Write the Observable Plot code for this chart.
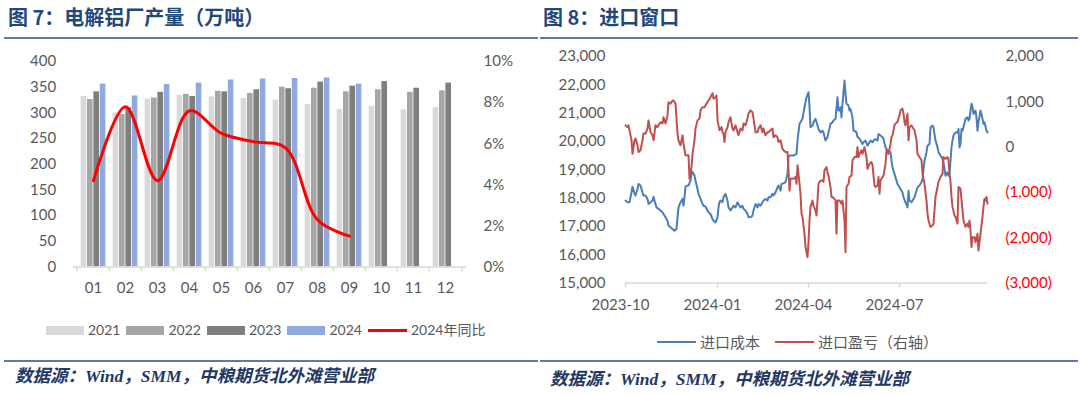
<!DOCTYPE html>
<html><head><meta charset="utf-8">
<script src="https://cdn.jsdelivr.net/npm/d3@7"></script>
<script src="https://cdn.jsdelivr.net/npm/@observablehq/plot@0.6"></script>
<style>
body{margin:0;width:1080px;height:395px;overflow:hidden;background:#fff;position:relative;font-family:Lato,"Noto Sans CJK SC",sans-serif;}
.abs{position:absolute;}
.title{font-family:"Noto Sans CJK SC",sans-serif;font-weight:700;font-size:20px;color:#1F497D;line-height:24px;white-space:nowrap;}
.hline{height:2px;background:#5B7BA7;}
.src{font-family:"Liberation Serif","Noto Sans CJK SC",serif;font-style:italic;font-weight:700;font-size:17.5px;color:#1F3864;white-space:nowrap;line-height:20px;}
.legend{display:flex;align-items:center;font-size:14px;color:#595959;white-space:nowrap;line-height:18px;}
.legend .sw{display:inline-block;width:38px;height:9px;margin-right:4px;}
.legend .ln{display:inline-block;width:39px;height:0;margin-right:4px;}
.legend .item{display:flex;align-items:center;margin-right:6px;}
</style></head>
<body>
<div id="root"></div>
<script>
// ---------- Data: Figure 7 ----------
const months = ["01","02","03","04","05","06","07","08","09","10","11","12"];
const years = ["2021","2022","2023","2024"];
const prod2021 = [332,300,327,334,331,328,325,316,307,313,306,310];
const prod2022 = [326,297,329,336,342,338,350,348,341,345,340,343];
const prod2023 = [341,310,340,332,341,345,347,360,352,361,348,358];
const prod2024 = [356,333,355,358,364,366,367,368,356];
const yoy2024 = [4.2,7.8,4.2,7.6,6.5,6.1,5.8,2.3,1.5];
const prodTicks = [0,50,100,150,200,250,300,350,400];
const pctTicks = [0,2,4,6,8,10];
const yoyLabel = "2024年同比";

// ---------- Data: Figure 8 ----------
const costSeries = [
["2023-10-01",17910],["2023-10-03",17850],["2023-10-05",17850],["2023-10-07",18200],["2023-10-08",18400],["2023-10-10",18150],["2023-10-11",18090],["2023-10-13",18320],["2023-10-14",18500],["2023-10-16",18440],["2023-10-18",18200],["2023-10-19",18090],["2023-10-21",18090],["2023-10-23",17970],["2023-10-24",17790],["2023-10-26",17850],["2023-10-28",17910],["2023-10-29",18050],["2023-10-30",17910],
["2023-11-01",17670],["2023-11-03",17620],["2023-11-05",17560],["2023-11-07",17500],["2023-11-08",17440],["2023-11-10",17320],["2023-11-12",17200],["2023-11-13",17030],["2023-11-15",16970],["2023-11-17",16910],["2023-11-19",16850],["2023-11-21",16910],["2023-11-22",17320],["2023-11-23",17670],["2023-11-25",17850],["2023-11-27",17970],["2023-11-28",17730],["2023-11-29",18030],["2023-11-30",18400],
["2023-12-02",18440],["2023-12-03",18440],["2023-12-05",18620],["2023-12-06",18850],["2023-12-07",18930],["2023-12-09",18790],["2023-12-10",18620],["2023-12-12",18320],["2023-12-13",18150],["2023-12-15",17970],["2023-12-17",17790],["2023-12-18",17730],["2023-12-20",17700],["2023-12-22",17560],["2023-12-23",17500],["2023-12-25",17440],["2023-12-27",17260],["2023-12-28",17200],["2023-12-30",17140],
["2024-01-01",17320],["2024-01-02",17670],["2024-01-03",17850],["2024-01-04",17910],["2024-01-06",17850],["2024-01-07",18030],["2024-01-09",18150],["2024-01-11",17910],["2024-01-12",17670],["2024-01-14",17560],["2024-01-16",17670],["2024-01-17",17730],["2024-01-19",17670],["2024-01-21",17850],["2024-01-22",17790],["2024-01-24",17670],["2024-01-26",17730],["2024-01-27",17620],["2024-01-29",17560],["2024-01-31",17440],
["2024-02-01",17320],["2024-02-03",17320],["2024-02-05",17380],["2024-02-06",17560],["2024-02-08",17790],["2024-02-10",17670],["2024-02-11",17790],["2024-02-13",17730],["2024-02-15",17850],["2024-02-16",17910],["2024-02-18",17970],["2024-02-20",17910],["2024-02-21",18030],["2024-02-23",18030],["2024-02-25",18150],["2024-02-26",18090],["2024-02-28",18200],
["2024-03-01",18380],["2024-03-02",18440],["2024-03-04",18260],["2024-03-05",18500],["2024-03-07",18520],["2024-03-09",18560],["2024-03-11",18850],["2024-03-12",19440],["2024-03-13",19500],["2024-03-16",19500],["2024-03-17",19500],["2024-03-20",19560],["2024-03-21",20030],["2024-03-23",20620],["2024-03-25",20740],["2024-03-26",20800],["2024-03-28",21210],["2024-03-30",21560],
["2024-04-01",21740],["2024-04-02",21210],["2024-04-03",20500],["2024-04-05",20560],["2024-04-06",20680],["2024-04-08",20800],["2024-04-10",20560],["2024-04-11",20440],["2024-04-13",20320],["2024-04-15",20380],["2024-04-16",20320],["2024-04-18",20030],["2024-04-20",20150],["2024-04-21",20320],["2024-04-23",20620],["2024-04-25",20680],["2024-04-26",20740],["2024-04-28",20800],["2024-04-30",21560],
["2024-05-01",21090],["2024-05-02",21090],["2024-05-03",21210],["2024-05-04",20850],["2024-05-05",21330],["2024-05-07",22150],["2024-05-08",21680],["2024-05-09",21330],["2024-05-11",21270],["2024-05-12",21090],["2024-05-13",21150],["2024-05-15",20850],["2024-05-16",20380],["2024-05-17",20380],["2024-05-19",20320],["2024-05-20",20150],["2024-05-21",20150],["2024-05-23",20030],["2024-05-25",19910],["2024-05-26",19970],["2024-05-28",20030],["2024-05-30",19850],["2024-05-31",19910],
["2024-06-02",20030],["2024-06-04",19970],["2024-06-05",20030],["2024-06-07",20090],["2024-06-09",20030],["2024-06-10",20260],["2024-06-12",20210],["2024-06-14",20150],["2024-06-15",20090],["2024-06-17",19790],["2024-06-19",19680],["2024-06-20",19680],["2024-06-22",19620],["2024-06-23",19320],["2024-06-24",19090],["2024-06-27",18730],["2024-06-29",18500],
["2024-07-02",18320],["2024-07-04",18200],["2024-07-05",18030],["2024-07-07",17850],["2024-07-09",17670],["2024-07-10",18260],["2024-07-11",17910],["2024-07-13",17850],["2024-07-14",17910],["2024-07-16",18030],["2024-07-18",18260],["2024-07-19",18380],["2024-07-21",18440],["2024-07-23",18560],["2024-07-24",18680],["2024-07-26",19320],["2024-07-28",19620],["2024-07-29",19850],["2024-07-31",19910],
["2024-08-01",20500],["2024-08-03",20560],["2024-08-04",20500],["2024-08-05",20260],["2024-08-06",20030],["2024-08-08",19790],["2024-08-09",19620],["2024-08-11",19500],["2024-08-13",19380],["2024-08-14",19260],["2024-08-16",18790],["2024-08-18",18910],["2024-08-19",18790],["2024-08-20",18850],["2024-08-21",19320],["2024-08-22",19790],["2024-08-23",20030],["2024-08-24",20210],["2024-08-26",20320],["2024-08-28",20320],["2024-08-29",20440],["2024-08-30",19790],["2024-08-31",19910],
["2024-09-01",20440],["2024-09-02",20380],["2024-09-03",20500],["2024-09-05",20800],["2024-09-07",20850],["2024-09-08",20740],["2024-09-09",20800],["2024-09-10",21090],["2024-09-11",21330],["2024-09-12",21210],["2024-09-13",20970],["2024-09-15",21090],["2024-09-16",20850],["2024-09-17",20380],["2024-09-18",20680],["2024-09-20",21090],["2024-09-22",20800],["2024-09-23",20620],["2024-09-24",20680],["2024-09-26",20380],["2024-09-27",20320]
];
const profitSeries = [
["2023-10-01",480],["2023-10-03",440],["2023-10-04",480],["2023-10-05",370],["2023-10-07",150],["2023-10-08",-150],["2023-10-09",0],["2023-10-10",150],["2023-10-11",190],["2023-10-13",40],["2023-10-14",-110],["2023-10-16",-70],["2023-10-18",150],["2023-10-19",300],["2023-10-21",300],["2023-10-23",410],["2023-10-24",590],["2023-10-26",330],["2023-10-28",260],["2023-10-29",150],["2023-10-31",480],
["2023-11-02",440],["2023-11-03",480],["2023-11-05",550],["2023-11-07",520],["2023-11-08",660],["2023-11-10",520],["2023-11-12",700],["2023-11-13",990],["2023-11-15",960],["2023-11-17",1030],["2023-11-18",1030],["2023-11-20",960],["2023-11-22",300],["2023-11-23",150],["2023-11-25",40],["2023-11-27",260],["2023-11-28",70],["2023-11-30",-180],
["2023-12-02",-180],["2023-12-03",-180],["2023-12-04",-700],["2023-12-06",-440],["2023-12-07",-150],["2023-12-09",150],["2023-12-10",410],["2023-12-12",590],["2023-12-14",630],["2023-12-15",810],["2023-12-17",880],["2023-12-19",880],["2023-12-21",960],["2023-12-23",1030],["2023-12-25",1100],["2023-12-27",1190],["2023-12-28",1070],["2023-12-30",1100],["2023-12-31",1140],
["2024-01-01",590],["2024-01-02",480],["2024-01-03",370],["2024-01-05",440],["2024-01-06",330],["2024-01-07",300],["2024-01-08",110],["2024-01-09",330],["2024-01-11",440],["2024-01-12",550],["2024-01-14",660],["2024-01-15",520],["2024-01-16",410],["2024-01-17",370],["2024-01-19",480],["2024-01-21",330],["2024-01-22",260],["2024-01-24",410],["2024-01-26",370],["2024-01-27",520],["2024-01-29",480],["2024-01-31",630],
["2024-02-01",740],["2024-02-03",810],["2024-02-05",770],["2024-02-06",630],["2024-02-08",330],["2024-02-10",330],["2024-02-11",410],["2024-02-13",480],["2024-02-15",330],["2024-02-16",410],["2024-02-18",260],["2024-02-20",330],["2024-02-21",330],["2024-02-23",370],["2024-02-25",410],["2024-02-26",220],["2024-02-28",260],
["2024-03-01",220],["2024-03-02",110],["2024-03-04",150],["2024-03-06",-40],["2024-03-07",-70],["2024-03-09",-110],["2024-03-11",-110],["2024-03-12",-510],["2024-03-13",-960],["2024-03-14",-700],["2024-03-16",-700],["2024-03-17",-700],["2024-03-19",-660],["2024-03-20",-810],["2024-03-21",-400],["2024-03-22",-590],["2024-03-24",-1030],["2024-03-25",-1470],["2024-03-26",-1540],["2024-03-28",-1910],["2024-03-29",-2210],["2024-03-31",-2430],
["2024-04-01",-2100],["2024-04-02",-1620],["2024-04-03",-1320],["2024-04-05",-1180],["2024-04-06",-1290],["2024-04-08",-1400],["2024-04-09",-1510],["2024-04-10",-1180],["2024-04-11",-810],["2024-04-13",-740],["2024-04-15",-740],["2024-04-16",-770],["2024-04-17",-510],["2024-04-19",-440],["2024-04-20",-550],["2024-04-21",-630],["2024-04-23",-880],["2024-04-24",-1100],["2024-04-25",-1100],["2024-04-27",-1140],["2024-04-28",-1180],["2024-04-29",-1910],["2024-04-30",-1180],
["2024-05-02",-1180],["2024-05-04",-1250],["2024-05-05",-1180],["2024-05-07",-1620],["2024-05-08",-2320],["2024-05-09",-880],["2024-05-11",-810],["2024-05-12",-660],["2024-05-14",-630],["2024-05-15",-290],["2024-05-17",-220],["2024-05-19",-220],["2024-05-20",0],["2024-05-21",-220],["2024-05-22",-150],["2024-05-24",-70],["2024-05-25",-150],["2024-05-27",0],["2024-05-29",-220],["2024-05-30",-480],
["2024-06-01",-370],["2024-06-03",-330],["2024-06-04",-400],["2024-06-06",-850],["2024-06-07",-880],["2024-06-09",-850],["2024-06-10",-660],["2024-06-11",-1030],["2024-06-12",-740],["2024-06-14",-660],["2024-06-15",-630],["2024-06-17",-370],["2024-06-18",-70],["2024-06-20",-150],["2024-06-22",70],["2024-06-23",220],["2024-06-24",260],["2024-06-26",480],["2024-06-27",520],["2024-06-29",550],
["2024-07-01",700],["2024-07-02",810],["2024-07-04",850],["2024-07-05",740],["2024-07-06",550],["2024-07-07",480],["2024-07-09",740],["2024-07-10",150],["2024-07-11",440],["2024-07-13",480],["2024-07-14",440],["2024-07-16",370],["2024-07-18",150],["2024-07-19",-150],["2024-07-21",-220],["2024-07-23",-290],["2024-07-24",-590],["2024-07-26",-810],["2024-07-28",-1180],["2024-07-29",-1470],["2024-07-30",-1620],
["2024-08-01",-1760],["2024-08-03",-1730],["2024-08-04",-1690],["2024-08-06",-1100],["2024-08-08",-880],["2024-08-09",-770],["2024-08-11",-660],["2024-08-13",-590],["2024-08-14",-220],["2024-08-16",-260],["2024-08-18",-220],["2024-08-19",-290],["2024-08-20",-590],["2024-08-21",-770],["2024-08-22",-1100],["2024-08-23",-1320],["2024-08-25",-1510],["2024-08-26",-1540],["2024-08-28",-1690],["2024-08-29",-880],["2024-08-31",-920],
["2024-09-02",-1400],["2024-09-03",-1620],["2024-09-05",-1760],["2024-09-07",-1690],["2024-09-08",-1760],["2024-09-09",-1620],["2024-09-10",-1840],["2024-09-11",-2210],["2024-09-12",-1990],["2024-09-14",-1990],["2024-09-15",-2100],["2024-09-17",-1910],["2024-09-18",-2280],["2024-09-20",-1910],["2024-09-22",-1540],["2024-09-23",-1320],["2024-09-24",-1140],["2024-09-25",-1180],["2024-09-26",-1100],["2024-09-27",-1250]
];
const costTicks = [15000,16000,17000,18000,19000,20000,21000,22000,23000];
const profitTicks = [-3000,-2000,-1000,0,1000,2000];
const dateTicks = ["2023-10-01","2024-01-01","2024-04-01","2024-07-01"];
const dateDomain = ["2023-10-01","2024-09-27"];
const seriesNames = ["进口成本","进口盈亏（右轴）"];

// ---------- Styles ----------
const yearColors = ["#D9D9D9","#A6A6A6","#7F7F7F","#8FAADC"];
const yoyColor = "#FF0000";
const costColor = "#4A7EBB";
const profitColor = "#C0504D";
const axisGrey = "#D9D9D9";
const textGrey = "#595959";

const root = document.getElementById("root");
function add(html){ root.insertAdjacentHTML("beforeend", html); }

// ---------- Titles & lines ----------
add(`<div class="abs title" style="left:8px;top:5px">图 7：电解铝厂产量（万吨）</div>`);
add(`<div class="abs title" style="left:543px;top:5px">图 8：进口窗口</div>`);
add(`<div class="abs hline" style="left:4px;top:37px;width:534px"></div>`);
add(`<div class="abs hline" style="left:540px;top:37px;width:538px"></div>`);
add(`<div class="abs hline" style="left:4px;top:360px;width:534px"></div>`);
add(`<div class="abs hline" style="left:540px;top:360px;width:538px"></div>`);
add(`<div class="abs src" style="left:15px;top:366px">数据源：Wind，SMM，中粮期货北外滩营业部</div>`);
add(`<div class="abs src" style="left:550px;top:369px">数据源：Wind，SMM，中粮期货北外滩营业部</div>`);

// ---------- Figure 7 ----------
const L = {width: 540, height: 270, mt: 21, mb: 43.5, ml: 72.7, mr: 74};
const bw = (L.width - L.ml - L.mr) / months.length;
const gpad = bw * 0.11;
const barW = (bw - 2 * gpad) / years.length;
const frameH7 = L.height - L.mt - L.mb;
const prodByYear = [prod2021, prod2022, prod2023, prod2024];
const barRows = years.map((yr, i) => prodByYear[i].map((v, j) => ({month: months[j], year: yr, value: v})));
const yoyRows = yoy2024.map((v, j) => ({month: months[j], yoy: v}));
const pctToLeft = p => p * (prodTicks[prodTicks.length-1] / pctTicks[pctTicks.length-1]);

const fig7 = Plot.plot({
  width: L.width, height: L.height,
  marginTop: L.mt, marginBottom: L.mb, marginLeft: L.ml, marginRight: L.mr,
  style: {fontFamily: "Lato, sans-serif", fontSize: "15px", color: textGrey, background: "transparent", overflow: "visible"},
  x: {type: "band", domain: months, padding: 0, axis: null},
  y: {domain: [prodTicks[0], prodTicks[prodTicks.length-1]], axis: null},
  marks: [
    ...years.map((yr, i) => Plot.barY(barRows[i], {
      x: "month", y: "value", fill: yearColors[i],
      insetLeft: gpad + barW * i, insetRight: bw - gpad - barW * (i + 1)
    })),
    Plot.ruleY([0], {stroke: axisGrey, strokeWidth: 1.5}),
    Plot.ruleX(months, {x: d => d, dx: -bw/2, insetTop: frameH7 - 5, dy: 5, stroke: axisGrey, strokeWidth: 1.5}),
    Plot.ruleX([months[months.length-1]], {x: d => d, dx: bw/2, insetTop: frameH7 - 5, dy: 5, stroke: axisGrey, strokeWidth: 1.5}),
    Plot.line(yoyRows, {x: "month", y: d => pctToLeft(d.yoy), curve: "catmull-rom", stroke: yoyColor, strokeWidth: 3}),
    Plot.axisY({ticks: prodTicks, tickSize: 0, tickPadding: 17, label: null}),
    Plot.text(pctTicks, {y: d => pctToLeft(d), text: d => d + "%", frameAnchor: "right", textAnchor: "start", dx: 17, fill: textGrey}),
    Plot.axisX({tickSize: 0, tickPadding: 15, label: null})
  ]
});
fig7.style.position = "absolute"; fig7.style.left = "0px"; fig7.style.top = "40px";
root.appendChild(fig7);

// legend 7
let leg7 = `<div class="abs legend" style="left:46px;top:321px">`;
years.forEach((yr, i) => { leg7 += `<div class="item"><span class="sw" style="background:${yearColors[i]}"></span>${yr}</div>`; });
leg7 += `<div class="item"><span class="ln" style="border-top:3px solid ${yoyColor}"></span>${yoyLabel}</div></div>`;
add(leg7);

// ---------- Figure 8 ----------
const R = {width: 540, height: 280, mt: 16, mb: 37.5, ml: 85, mr: 93};
const frameH8 = R.height - R.mt - R.mb;
const parse = s => new Date(s + "T00:00:00Z");
const costRows = costSeries.map(([d, v]) => ({date: parse(d), value: v}));
const profitRows = profitSeries.map(([d, v]) => ({date: parse(d), value: v}));
const cMin = costTicks[0], cMax = costTicks[costTicks.length-1];
const pMin = profitTicks[0], pMax = profitTicks[profitTicks.length-1];
const toLeft = v => cMin + (v - pMin) * (cMax - cMin) / (pMax - pMin);
const comma = d3.format(",");
const fmtProfit = v => v < 0 ? "(" + comma(-v) + ")" : comma(v);
const tickDates = dateTicks.map(parse);

const fig8 = Plot.plot({
  width: R.width, height: R.height,
  marginTop: R.mt, marginBottom: R.mb, marginLeft: R.ml, marginRight: R.mr,
  style: {fontFamily: "Lato, sans-serif", fontSize: "15px", color: textGrey, background: "transparent", overflow: "visible"},
  x: {type: "utc", domain: dateDomain.map(parse), axis: null},
  y: {domain: [cMin, cMax], axis: null},
  marks: [
    Plot.ruleY([cMin], {stroke: axisGrey, strokeWidth: 1.5}),
    Plot.ruleX(tickDates, {x: d => d, insetTop: frameH8 - 5, dy: 5, stroke: axisGrey, strokeWidth: 1.5}),
    Plot.axisX({ticks: tickDates, tickFormat: d3.utcFormat("%Y-%m"), tickSize: 0, tickPadding: 16, dx: -5, label: null}),
    Plot.axisY({ticks: costTicks, tickFormat: comma, tickSize: 0, tickPadding: 20, label: null}),
    Plot.text(profitTicks.filter(v => v >= 0), {y: toLeft, text: fmtProfit, frameAnchor: "right", textAnchor: "start", dx: 18, fill: textGrey}),
    Plot.text(profitTicks.filter(v => v < 0), {y: toLeft, text: fmtProfit, frameAnchor: "right", textAnchor: "start", dx: 18, fill: "#FF0000"}),
    Plot.line(costRows, {x: "date", y: "value", stroke: costColor, strokeWidth: 2}),
    Plot.line(profitRows, {x: "date", y: d => toLeft(d.value), stroke: profitColor, strokeWidth: 2})
  ]
});
fig8.style.position = "absolute"; fig8.style.left = "540px"; fig8.style.top = "40px";
root.appendChild(fig8);

add(`<div class="abs legend" style="left:657px;top:333px;font-size:15px">
<div class="item" style="margin-right:15px"><span class="ln" style="border-top:2.5px solid ${costColor}"></span>${seriesNames[0]}</div>
<div class="item"><span class="ln" style="border-top:2.5px solid ${profitColor}"></span>${seriesNames[1]}</div></div>`);
</script>
</body></html>
